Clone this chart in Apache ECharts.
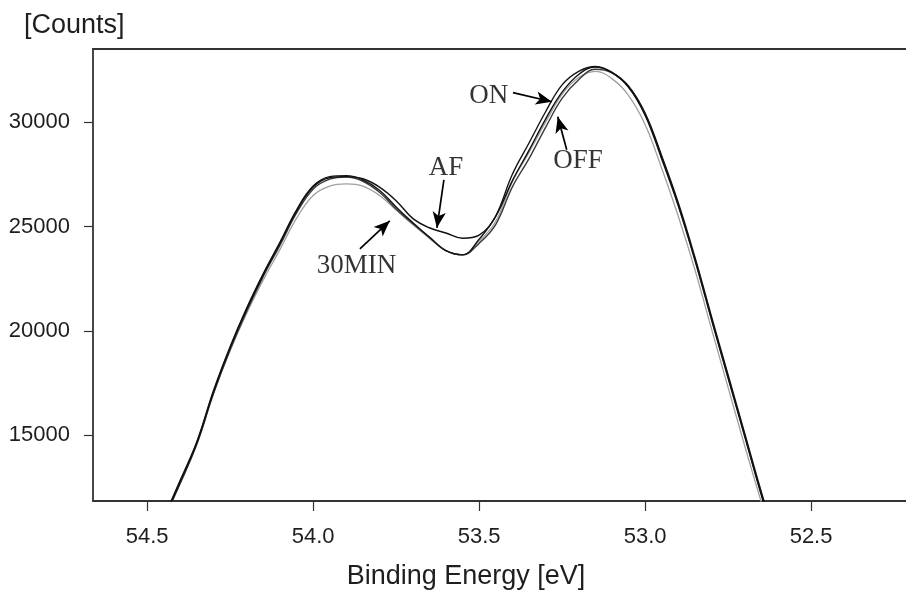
<!DOCTYPE html>
<html>
<head>
<meta charset="utf-8">
<script src="https://cdn.jsdelivr.net/npm/echarts@6/dist/echarts.min.js"></script>
<style>
html,body{margin:0;padding:0;background:#fff;}
#chart{width:906px;height:591px;}
</style>
</head>
<body>
<div id="chart"></div>
<script>
// Binding energy (eV)
const energy = [54.45,54.40,54.35,54.30,54.25,54.20,54.15,54.10,54.05,54.00,53.95,53.90,53.85,53.80,53.75,53.70,53.65,53.60,53.55,53.50,53.45,53.40,53.35,53.30,53.25,53.20,53.15,53.10,53.05,53.00,52.95,52.90,52.85,52.80,52.75,52.70,52.65,52.60];
// Counts for each condition
const onCounts    = [11050,12850,14700,17150,19250,21100,22750,24250,25800,26950,27400,27450,27250,26750,25950,25200,24500,23850,23650,24400,25500,27500,29000,30500,31800,32450,32680,32400,31750,30450,28400,26150,23550,20700,17900,15100,12300,9700];
const offCounts   = [10950,12700,14580,17000,19100,20950,22620,24100,25650,26800,27280,27380,27180,26650,25850,25150,24500,23850,23650,24200,25100,26900,28250,29750,31150,32050,32550,32380,31700,30400,28350,26050,23450,20600,17800,15000,12200,9600];
const afCounts    = [11000,12780,14650,17080,19200,21050,22700,24200,25750,26900,27350,27400,27300,26900,26250,25400,24950,24700,24450,24600,25500,27200,28650,30150,31450,32300,32650,32400,31700,30350,28250,26000,23400,20550,17750,14950,12150,9550];
const min30Counts = [11000,12750,14600,17000,19050,20850,22450,23900,25400,26500,26950,27050,26950,26500,25800,25100,24450,23850,23650,24300,25250,27150,28550,30000,31350,32150,32450,32100,31300,29900,27800,25500,22950,20100,17300,14500,11800,9200];

// Axis ticks
const xTicks = [54.5, 54.0, 53.5, 53.0, 52.5];
const yTicks = [15000, 20000, 25000, 30000];

// Annotation labels (data space)
const noteText = ['ON', 'OFF', 'AF', '30MIN'];
const noteX = [53.471, 53.202, 53.600, 53.869];
const noteY = [31281, 28162, 27827, 23124];
// Arrows: from / to (data space)
const arrowFrom = [[53.398, 31425], [53.236, 28690], [53.606, 27251], [53.859, 23940]];
const arrowTo   = [[53.281, 30993], [53.263, 30273], [53.627, 24948], [53.769, 25284]];

const chart = echarts.init(document.getElementById('chart'), null, {renderer: 'canvas'});

function lineSeries(name, vals, color, width) {
  return {
    name: name,
    type: 'line',
    data: energy.map((e, i) => [e, vals[i]]),
    showSymbol: false,
    smooth: 0.4,
    clip: true,
    lineStyle: {color: color, width: width},
    emphasis: {disabled: true},
    animation: false,
    z: 3
  };
}

const font = 'Liberation Sans, Arial, Helvetica, sans-serif';
const axisColor = '#333333';

chart.setOption({
  backgroundColor: '#ffffff',
  animation: false,
  grid: {left: 93, right: 0, top: 49, bottom: 90, show: false},
  xAxis: [{
    type: 'value',
    inverse: true,
    min: 52.214,
    max: 54.663,
    axisLine: {show: true, onZero: false, lineStyle: {color: axisColor, width: 1.8}},
    axisTick: {show: true, inside: false, length: 10, customValues: xTicks, lineStyle: {color: axisColor, width: 1.2}},
    axisLabel: {show: true, customValues: xTicks, margin: 25, fontSize: 22, color: '#1e1e1e', fontFamily: font,
      formatter: v => Number(v).toFixed(1)},
    splitLine: {show: false}
  }, {
    type: 'value',
    position: 'top',
    inverse: true,
    min: 52.214,
    max: 54.663,
    axisLine: {show: true, onZero: false, lineStyle: {color: axisColor, width: 1.8}},
    axisTick: {show: false},
    axisLabel: {show: false},
    splitLine: {show: false}
  }],
  yAxis: {
    type: 'value',
    min: 11850,
    max: 33520,
    axisLine: {show: true, onZero: false, lineStyle: {color: axisColor, width: 1.8}},
    axisTick: {show: true, inside: false, length: 9, customValues: yTicks, lineStyle: {color: axisColor, width: 1.2}},
    axisLabel: {show: true, customValues: yTicks, margin: 23, fontSize: 22, color: '#1e1e1e', fontFamily: font,
      formatter: v => String(Math.round(v))},
    splitLine: {show: false}
  },
  graphic: [
    {type: 'text', left: 24, top: 12, style: {text: '[Counts]', fontSize: 27, fontFamily: font, fill: '#1e1e1e'}},
    {type: 'text', x: 466, y: 577, style: {text: 'Binding Energy [eV]', fontSize: 27, fontFamily: font, fill: '#1e1e1e', align: 'center', verticalAlign: 'middle'}}
  ],
  series: [
    lineSeries('30MIN', min30Counts, '#a0a0a0', 1.3),
    lineSeries('OFF', offCounts, '#3a3a3a', 1.4),
    lineSeries('ON', onCounts, '#151515', 1.4),
    lineSeries('AF', afCounts, '#101010', 1.4),
    {
      name: 'notes',
      type: 'scatter',
      silent: true,
      symbolSize: 0,
      data: noteText.map((t, i) => [noteX[i], noteY[i], t]),
      label: {
        show: true, position: 'inside',
        formatter: p => p.value[2],
        fontFamily: 'Liberation Serif, Times New Roman, serif',
        fontSize: 27, color: '#000'
      },
      markLine: {
        silent: true,
        animation: false,
        symbol: ['none', 'arrow'],
        symbolSize: [10, 16],
        lineStyle: {color: '#000', width: 1.7, type: 'solid'},
        label: {show: false},
        emphasis: {disabled: true},
        data: arrowFrom.map((f, i) => [{coord: f}, {coord: arrowTo[i]}])
      },
      z: 5
    }
  ]
});
</script>
</body>
</html>
